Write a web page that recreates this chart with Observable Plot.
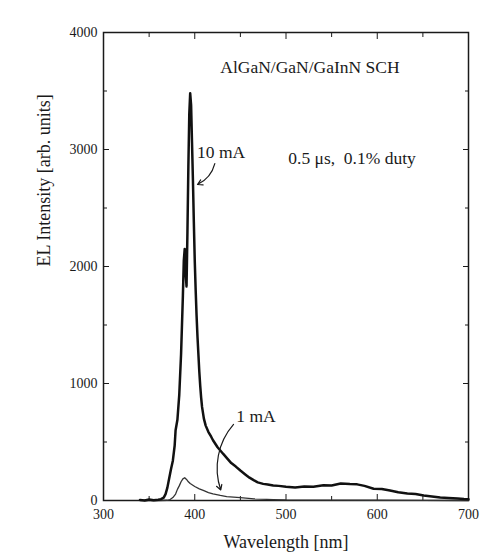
<!DOCTYPE html>
<html><head><meta charset="utf-8">
<script src="https://cdn.jsdelivr.net/npm/d3@7"></script>
<script src="https://cdn.jsdelivr.net/npm/@observablehq/plot@0.6"></script>
<style>body{margin:0;background:#fff}</style>
</head><body><div id="chart"></div>
<script>
// 10 mA spectrum (wavelength nm, EL intensity)
const wl10 = [340,345,350,355,360,363,366,368,370,372,374,376,378,379,381,383,385,387,388,389,390,391,392,393,394,395,396,397,398,399,400,401,402,403,404,405,406,407,408,410,412,415,418,420,425,431,435,440,445,450,455,460,465,469,475,480,486,492,500,510,520,530,541,550,560,570,578,586,596,605,614,623,633,642,651,660,669,678,688,695,700];
const el10 = [5,0,8,2,6,12,25,55,110,190,270,340,470,600,690,900,1250,1750,2050,2150,1950,1830,2300,2850,3300,3480,3380,3060,2740,2380,2050,1800,1580,1400,1250,1100,980,880,800,700,640,585,545,515,455,400,365,320,290,256,225,195,172,155,142,136,128,125,118,112,120,118,130,128,145,140,138,125,100,98,85,70,60,55,43,35,25,22,17,12,10];
// 1 mA spectrum
const wl1 = [345,360,370,373,376,379,381,383,385,387,389,391,393,395,400,405,410,415,420,428,435,450,465,486,500,550,600,650,700];
const el1 = [0,0,2,8,25,55,95,125,160,185,195,180,160,145,120,100,84,68,56,43,33,24,14,8,5,3,2,1,0];
// axes
const xTicks = [300,400,500,600,700];
const xMinor = [350,450,550,650];
const yTicks = [0,1000,2000,3000,4000];
const yMinor = [500,1500,2500,3500];
// annotations
const noteText = ["AlGaN/GaN/GaInN SCH", "0.5 \u03bcs,\u00a0 0.1% duty", "10 mA", "1 mA"];
const noteX = [428, 502.5, 402.5, 445.5];
const noteY = [3658, 2880, 2925, 675];
const arrowX1 = [422, 442.5];
const arrowY1 = [2880, 650];
const arrowX2 = [403, 428.5];
const arrowY2 = [2701, 90];

const s10 = wl10.map((w,i)=>({w, v: el10[i]}));
const s1 = wl1.map((w,i)=>({w, v: el1[i]}));
const notes = noteText.map((t,i)=>({t, x: noteX[i], y: noteY[i]}));
const arrows = arrowX1.map((x1,i)=>({x1, y1: arrowY1[i], x2: arrowX2[i], y2: arrowY2[i]}));

const ink = "#1a1a1a";
const chart = Plot.plot({
  width: 489, height: 554,
  marginLeft: 103, marginRight: 21, marginTop: 32, marginBottom: 54,
  style: {fontFamily: "'Liberation Serif', serif", color: ink, background: "#fff"},
  x: {domain: [300, 700]},
  y: {domain: [0, 4000]},
  marks: [
    Plot.axisX(xTicks, {anchor: "bottom", tickSize: -6, tickPadding: 15, fontSize: 14, tickFormat: "d", label: null}),
    Plot.axisX(xTicks, {anchor: "top", tickSize: -6, tickFormat: () => "", label: null}),
    Plot.axisX(xMinor, {anchor: "bottom", tickSize: -4, tickFormat: () => "", label: null}),
    Plot.axisX(xMinor, {anchor: "top", tickSize: -4, tickFormat: () => "", label: null}),
    Plot.axisY(yTicks, {anchor: "left", tickSize: -6, tickPadding: 12, fontSize: 14, tickFormat: "d", label: null}),
    Plot.axisY(yTicks, {anchor: "right", tickSize: -6, tickFormat: () => "", label: null}),
    Plot.axisY(yMinor, {anchor: "left", tickSize: -4, tickFormat: () => "", label: null}),
    Plot.axisY(yMinor, {anchor: "right", tickSize: -4, tickFormat: () => "", label: null}),
    Plot.frame({stroke: ink, strokeWidth: 1.5}),
    Plot.line(s1, {x: "w", y: "v", stroke: "#333", strokeWidth: 1.3}),
    Plot.line(s10, {x: "w", y: "v", stroke: "#111", strokeWidth: 2.5, strokeLinejoin: "round"}),
    Plot.text(notes, {x: "x", y: "y", text: "t", textAnchor: "start", lineAnchor: "bottom", fontSize: 17.5, fill: ink}),
    Plot.arrow(arrows.slice(0,1), {x1: "x1", y1: "y1", x2: "x2", y2: "y2", bend: 25, stroke: ink, strokeWidth: 1.2, headLength: 7}),
    Plot.arrow(arrows.slice(1), {x1: "x1", y1: "y1", x2: "x2", y2: "y2", bend: -30, stroke: ink, strokeWidth: 1.2, headLength: 7}),
    Plot.text(["Wavelength [nm]"], {frameAnchor: "bottom", dy: 47, lineAnchor: "bottom", fontSize: 18, fill: ink}),
    Plot.text(["EL Intensity [arb. units]"], {frameAnchor: "left", dx: -59, rotate: -90, lineAnchor: "middle", fontSize: 18, fill: ink})
  ]
});
document.getElementById("chart").appendChild(chart);
</script>
</body></html>
